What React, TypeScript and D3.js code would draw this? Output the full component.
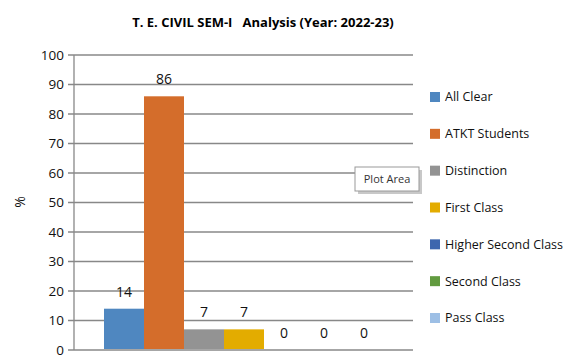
import React from "react";
import * as d3 from "d3";

// 系列名稱與數值 (%)
const seriesNames = ["All Clear", "ATKT Students", "Distinction", "First Class", "Higher Second Class", "Second Class", "Pass Class"];
const seriesValues = [14, 86, 7, 7, 0, 0, 0];
const seriesColors = ["#4f87c0", "#d46d2b", "#939393", "#e3ac00", "#3d66ae", "#629b40", "#9dbfe5"];
const yTicks = [0, 10, 20, 30, 40, 50, 60, 70, 80, 90, 100];

const W = 574;
const H = 364;
const plot = { left: 74, right: 413, top: 55, bottom: 350 };
const font = "'Open Sans', 'Noto Sans', sans-serif";

export default function App() {
    const y = d3.scaleLinear().domain([0, 100]).range([plot.bottom, plot.top]);
    // 單一類別，七個系列並排
    const x = d3.scaleBand<string>()
        .domain(seriesNames)
        .range([plot.left + 30, plot.right - 29])
        .padding(0);
    const legendY = d3.scalePoint<string>().domain(seriesNames).range([97, 318]);

    return (
        <svg width={W} height={H} style={{ position: "absolute", left: 0, top: 0, fontFamily: font }}>
            <rect width={W} height={H} fill="#fff" />
            <text x={263} y={27} textAnchor="middle" fontSize={13} fontWeight="bold" fill="#000"
                style={{ whiteSpace: "pre" }}>
                {"T. E. CIVIL SEM-I   Analysis (Year: 2022-23)"}
            </text>

            {/* 格線與刻度 */}
            {yTicks.map(t => (
                <g key={t}>
                    <line x1={plot.left - 6} x2={plot.right} y1={y(t)} y2={y(t)} stroke="#888" strokeWidth={1.3} />
                    <text x={64} y={y(t)} dy="0.35em" textAnchor="end" fontSize={13.5} fill="#111">{t}</text>
                </g>
            ))}
            <line x1={plot.left} x2={plot.left} y1={plot.top} y2={plot.bottom} stroke="#888" strokeWidth={1.3} />

            <text transform="translate(25,202) rotate(-90)" textAnchor="middle" fontSize={14} fill="#111">%</text>

            {/* 長條 */}
            {seriesNames.map((s, i) => (
                <g key={s}>
                    <rect x={x(s)} y={y(seriesValues[i])} width={x.bandwidth()}
                        height={Math.max(0, y(0) - 1 - y(seriesValues[i]))} fill={seriesColors[i]} />
                    <text x={(x(s) || 0) + x.bandwidth() / 2} y={y(seriesValues[i]) - 12}
                        textAnchor="middle" fontSize={14} fill="#111">{seriesValues[i]}</text>
                </g>
            ))}

            {/* 圖例 */}
            {seriesNames.map((s, i) => (
                <g key={s} transform={`translate(430,${legendY(s)})`}>
                    <rect x={0} y={-5} width={10} height={10} fill={seriesColors[i]} />
                    <text x={15} y={0} dy="0.35em" fontSize={12.5} fill="#111">{s}</text>
                </g>
            ))}

            {/* Plot Area 提示框 */}
            <g transform="translate(355,167)">
                <rect x={3} y={3} width={64} height={24} fill="#c8c8c8" />
                <rect x={0} y={0} width={64} height={24} fill="#fff" stroke="#999" />
                <text x={32} y={12} dy="0.35em" textAnchor="middle" fontSize={11} fill="#333">Plot Area</text>
            </g>
        </svg>
    );
}
